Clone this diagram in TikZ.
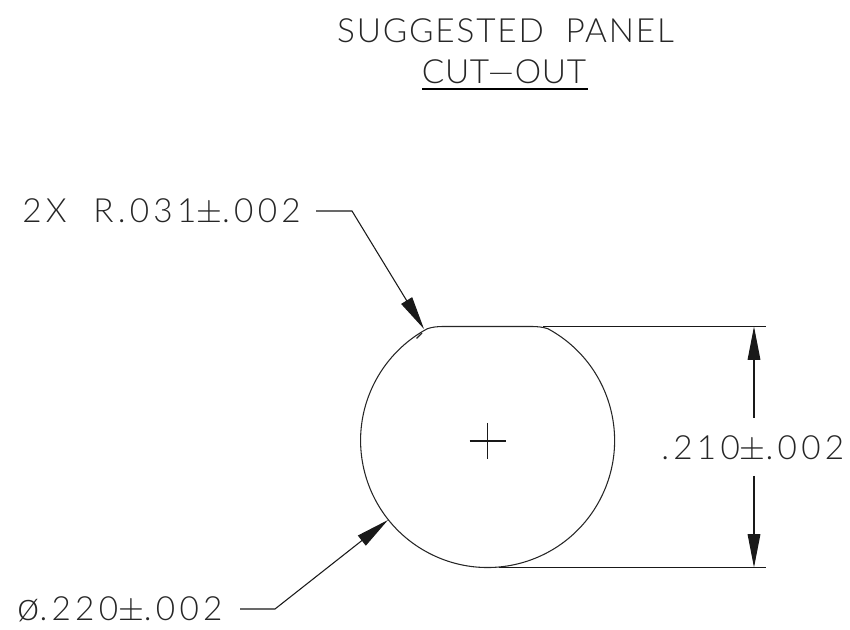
\documentclass[tikz,border=0pt]{standalone}
\usepackage{fontspec}
\setmainfont{Lato Light}
\usetikzlibrary{arrows.meta}
\tikzset{
  x=0.75pt,y=-0.75pt,
  geo/.style={line width=0.8pt,black!85},
  dim/.style={line width=0.8pt,black!90},
  lead/.style={dim,-{Triangle[length=25pt,width=9.5pt]}},
  lbl/.style={inner sep=0pt,font=\fontsize{25}{25}\selectfont\addfontfeature{LetterSpace=12.8},text=black!85,anchor=base west},
  ttl/.style={inner sep=0pt,font=\fontsize{25}{25}\selectfont\addfontfeature{LetterSpace=5.5},text=black!85,anchor=base},
  ttlb/.style={inner sep=0pt,font=\fontsize{25}{25}\selectfont\addfontfeature{LetterSpace=2},text=black!85,anchor=base},
}
\begin{document}
\begin{tikzpicture}
\useasboundingbox (0,0) rectangle (850,630);
\node[ttl] (title1) at (505.5,43) {SUGGESTED\ \ PANEL};
\node[ttlb] (title2) at (504,84) {CUT---OUT};
\coordinate (ula) at (422,89);
\coordinate (ulb) at (588,89);
\draw[line width=1pt] (ula) -- (ulb);
\node[lbl] (rad) at (22,223) {2X\ \ R.031$\pm$.002};
\node[lbl] (dia) at (17,621) {{\fontsize{30}{30}\selectfont ø}.220$\pm$.002};
\node[lbl] (ht) at (661,460) {.210$\pm$.002};
\coordinate (c) at (487.5,440.5);
\coordinate (plus) at (487.7,441);
\coordinate (r1) at (316,211);
\coordinate (r2) at (352,211);
\coordinate (r3) at (424,329);
\coordinate (d1) at (240,609);
\coordinate (d2) at (275,609);
\coordinate (d3) at (388,520);
\coordinate (ta) at (543,326.5);
\coordinate (tb) at (766,326.5);
\coordinate (ba) at (499,567.5);
\coordinate (bb) at (766,567.5);
\coordinate (at) at (754,326.5);
\coordinate (am) at (754,418);
\coordinate (bm) at (754,476);
\coordinate (ab) at (754,567.5);
\draw[geo] (443,326.5) -- (532,326.5) .. controls (537,326.5) and (543,327) .. (548,328.8)
  arc[start angle=-61.6,end angle=241.6,radius=127]
  .. controls (432,327) and (438,326.5) .. (443,326.5);
\draw[geo] (416.5,338.5) -- (422,333);
\draw[dim] (plus)+(-18,0) -- +(18,0) (plus)+(0,-18) -- +(0,18);
\draw[dim] (ta) -- (tb) (ba) -- (bb);
\draw[lead] (r1) -- (r2) -- (r3);
\draw[lead] (d1) -- (d2) -- (d3);
\draw[lead] (am) -- (at);
\draw[lead] (bm) -- (ab);
\end{tikzpicture}
\end{document}
